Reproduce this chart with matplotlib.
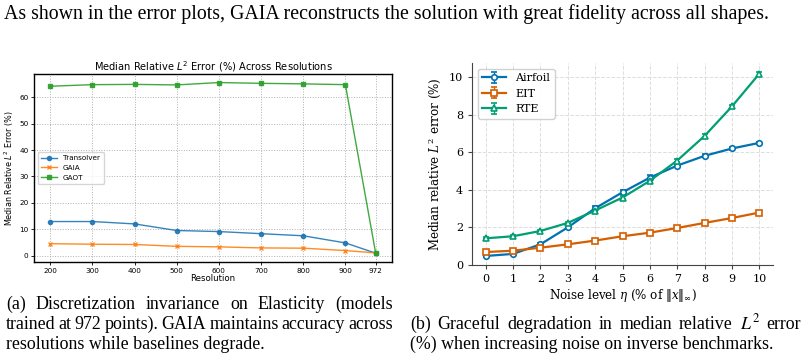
import matplotlib
matplotlib.use("Agg")
import matplotlib.pyplot as plt

# ---- data ----
resolutions = [200, 300, 400, 500, 600, 700, 800, 900, 972]
transolver = [12.9, 12.9, 12.0, 9.5, 9.1, 8.3, 7.5, 4.8, 0.9]
gaia = [4.5, 4.3, 4.2, 3.5, 3.3, 2.9, 2.8, 1.9, 1.0]
gaot = [64.2, 64.8, 64.9, 64.7, 65.6, 65.3, 65.1, 64.8, 0.8]

noise = [0, 1, 2, 3, 4, 5, 6, 7, 8, 9, 10]
airfoil = [0.48, 0.59, 1.10, 2.00, 3.02, 3.87, 4.65, 5.29, 5.81, 6.20, 6.50]
airfoil_err = [0.05, 0.05, 0.08, 0.08, 0.1, 0.1, 0.12, 0.1, 0.08, 0.06, 0.06]
eit = [0.69, 0.76, 0.92, 1.10, 1.30, 1.53, 1.72, 1.97, 2.24, 2.50, 2.79]
eit_err = [0.04, 0.04, 0.04, 0.04, 0.04, 0.04, 0.04, 0.05, 0.05, 0.05, 0.05]
rte = [1.42, 1.53, 1.81, 2.24, 2.90, 3.59, 4.48, 5.56, 6.87, 8.44, 10.18]
rte_err = [0.05, 0.05, 0.06, 0.07, 0.08, 0.08, 0.1, 0.1, 0.1, 0.1, 0.1]

top_line = "As shown in the error plots, GAIA reconstructs the solution with great fidelity across all shapes."
cap_a = ["(a) Discretization invariance on Elasticity (models",
         "trained at 972 points). GAIA maintains accuracy across",
         "resolutions while baselines degrade."]
cap_b = ["(b) Graceful degradation in median relative $L^2$ error",
         "(%) when increasing noise on inverse benchmarks."]

W, H = 806, 361
fig = plt.figure(figsize=(W / 100, H / 100), dpi=100)
serif = ["Liberation Serif", "DejaVu Serif"]
top_fs = 14.3
cap_fs = 12.9

# ---- left panel ----
ax1 = fig.add_axes([34 / W, 1 - 262 / H, 358 / W, 188 / H])
ax1.plot(resolutions, transolver, marker="o", ms=3, lw=1, color="#1f77b4", alpha=0.9, label="Transolver")
ax1.plot(resolutions, gaia, marker="x", ms=3, lw=1, color="#ff7f0e", alpha=0.9, label="GAIA")
ax1.plot(resolutions, gaot, marker="s", ms=3, lw=1, color="#2ca02c", alpha=0.9, label="GAOT")
ax1.set_xticks(resolutions)
ax1.set_yticks([0, 10, 20, 30, 40, 50, 60])
ax1.tick_params(labelsize=5.2, length=2, width=0.6, pad=2)
ax1.grid(True, linestyle=":", color="#b0b0b0", lw=0.7)
for s in ax1.spines.values():
    s.set_linewidth(1.0)
ax1.set_title("Median Relative $L^2$ Error (%) Across Resolutions", fontsize=7.1, pad=2.5,
              math_fontfamily="dejavusans")
ax1.set_xlabel("Resolution", fontsize=6.2, labelpad=0.5)
ax1.set_ylabel("Median Relative $L^2$ Error (%)", fontsize=5.8, labelpad=2)
ax1.legend(loc="center left", fontsize=5.2, frameon=True, borderpad=0.5, handlelength=2.2)

# ---- right panel ----
ax2 = fig.add_axes([472 / W, 1 - 265 / H, 301 / W, 202 / H])
kw = dict(lw=1.6, ms=4, mfc="white", mew=1.2, capsize=2, elinewidth=1, capthick=1)
ax2.errorbar(noise, airfoil, yerr=airfoil_err, marker="o", color="#0072B2", label="Airfoil", **kw)
ax2.errorbar(noise, eit, yerr=eit_err, marker="s", color="#D55E00", label="EIT", **kw)
ax2.errorbar(noise, rte, yerr=rte_err, marker="^", color="#009E73", label="RTE", **kw)
ax2.set_xlim(-0.5, 10.5)
ax2.set_ylim(0, 10.75)
ax2.set_xticks(noise)
ax2.set_yticks([0, 2, 4, 6, 8, 10])
ax2.grid(True, linestyle="--", color="#dddddd", lw=0.7)
ax2.spines["top"].set_visible(False)
ax2.spines["right"].set_visible(False)
for s in ("left", "bottom"):
    ax2.spines[s].set_color("#444444")
ax2.tick_params(labelsize=8, length=3, color="#444444")
for lab in ax2.get_xticklabels() + ax2.get_yticklabels():
    lab.set_family("DejaVu Serif")
ax2.set_xlabel(r"Noise level $\eta$ (% of $\|x\|_\infty$)", fontsize=8.6, family="DejaVu Serif",
               math_fontfamily="dejavuserif", labelpad=2)
ax2.set_ylabel("Median relative $L^2$ error (%)", fontsize=8.6, family="DejaVu Serif",
               math_fontfamily="dejavuserif", labelpad=4)
leg = ax2.legend(loc="upper left", prop={"family": "DejaVu Serif", "size": 8},
                 fancybox=True, framealpha=0.9, handlelength=2.2)

# ---- surrounding text ----
fig.text(4 / W, 1 - 19 / H, top_line, fontsize=top_fs, family=serif, va="baseline")

r = fig.canvas.get_renderer()


def justify(line, x0, x1, y):
    words = line.split()
    ts = [fig.text(0, 1 - y / H, w, fontsize=cap_fs, family=serif, va="baseline",
                   math_fontfamily="stix") for w in words]
    widths = [t.get_window_extent(r).width for t in ts]
    gap = ((x1 - x0) - sum(widths)) / (len(words) - 1)
    x = x0
    for t, w in zip(ts, widths):
        t.set_x(x / W)
        x += w + gap


justify(cap_a[0], 6, 393, 309)
justify(cap_a[1], 6, 393, 329)
fig.text(6 / W, 1 - 349 / H, cap_a[2], fontsize=cap_fs, family=serif, va="baseline")
justify(cap_b[0], 410, 801, 329)
fig.text(410 / W, 1 - 349 / H, cap_b[1], fontsize=cap_fs, family=serif, va="baseline",
         math_fontfamily="stix")

fig.savefig("out.png", dpi=100)
